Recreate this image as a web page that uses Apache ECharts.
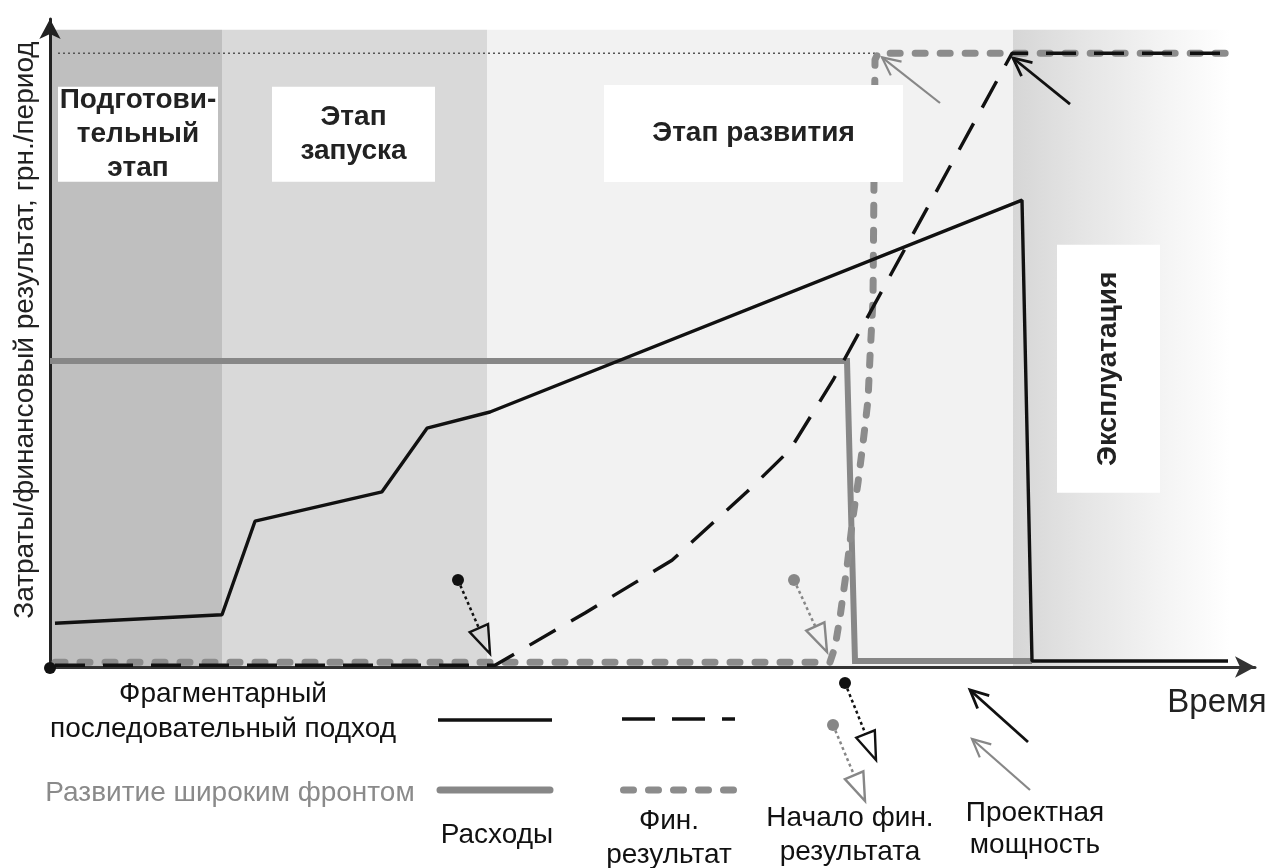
<!DOCTYPE html>
<html><head><meta charset="utf-8">
<script src="https://cdn.jsdelivr.net/npm/echarts@6/dist/echarts.min.js"></script>
<style>html,body{margin:0;padding:0;background:#fff}#c{width:1282px;height:868px}</style>
</head><body><div id="c"></div>
<script>
// ---------- DATA (x: time units, y: value units) ----------
const stageNames  = ['Подготови-\nтельный\nэтап', 'Этап\nзапуска', 'Этап развития', 'Эксплуатация'];
const stageStart  = [0, 17.2, 43.7, 96.3];
const stageEnd    = [17.2, 43.7, 96.3, 118];
const stageTop    = 106.2;
const stageLabelX = [8.8, 30.35, 70.35, 105.85];
const stageLabelY = [88.8, 88.8, 88.9, 49.7];

// Фрагментарный последовательный подход — расходы
const fragmentCosts = [[0.5,7.3],[17.2,8.7],[20.5,24.3],[33.2,29.2],[37.7,39.8],[44,42.5],[97.2,77.8],[98.2,1],[117.8,1]];
// Фрагментарный — фин. результат
const fragmentResult = [[0.5,0.3],[44.5,0.3],[53.5,9],[62.2,17.8],[69.7,29.2],[74,36.2],[78.3,47.8],[96.2,102.3],[117.8,102.3]];
// Развитие широким фронтом — расходы
const frontCosts = [[0,51],[79.7,51],[80.5,1],[98.2,1]];
// Развитие широким фронтом — фин. результат
const frontResult = [[0.5,0.8],[78,0.8],[78.5,3.3],[79,8.3],[79.7,16.7],[80.3,25],[80.8,30.7],[81.3,37.3],[81.8,44.5],[82,51.7],[82.3,61.2],[82.5,101.2],[82.8,102.3],[117.8,102.3]];
// Проектная мощность (reference level)
const designLevel = [[0.8,102.3],[82.6,102.3]];

// Annotations in data coordinates: [x1,y1,x2,y2]
const startPins   = [[40.8,14.5,44,2.2],[74.4,14.5,77.7,2.5]];
const capacityArrows = [[89,94,83.2,101.6],[102,93.8,96.3,101.5]];

const yTitle = 'Затраты/финансовый результат, грн./период';
const xTitle = 'Время';
const legendTexts = ['Фрагментарный\nпоследовательный подход','Развитие широким фронтом','Расходы','Фин.\nрезультат','Начало фин.\nрезультата','Проектная\nмощность'];

// ---------- STYLE ----------
const FONT = '"Liberation Sans", Arial, sans-serif';
const BLACK = '#111', GRAY = '#878787';
const pinColors = [BLACK, GRAY];
const arrowColors = [GRAY, BLACK];
const labelBox = [[160,95],[163,95],[299,97],[103,248]];

const chart = echarts.init(document.getElementById('c'));

const bandColors = ['#bfbfbf','#d9d9d9','#f2f2f2',
  new echarts.graphic.LinearGradient(0,0,1,0,[
    {offset:0,color:'#d6d6d6'},{offset:0.3,color:'#e4e4e4'},{offset:0.7,color:'#f4f4f4'},{offset:1,color:'#ffffff'}])];

function pinShape(a,b,color){
  const dx=b[0]-a[0], dy=b[1]-a[1], L=Math.hypot(dx,dy), ux=dx/L, uy=dy/L, nx=-uy, ny=ux;
  const hl=28, hw=10;
  const base=[b[0]-ux*hl, b[1]-uy*hl];
  return [
    {type:'line', shape:{x1:a[0],y1:a[1],x2:base[0],y2:base[1]}, style:{stroke:color,lineWidth:2.5,lineDash:[3,3]}},
    {type:'polygon', shape:{points:[b,[base[0]+nx*hw,base[1]+ny*hw],[base[0]-nx*hw,base[1]-ny*hw]]}, style:{fill:'none',stroke:color,lineWidth:2.4}},
    {type:'circle', shape:{cx:a[0],cy:a[1],r:6}, style:{fill:color}}
  ];
}
function arrowShape(a,b,color,w){
  const ang=Math.atan2(a[1]-b[1], a[0]-b[0]);
  const hl=20, sp=0.45;
  const p1=[b[0]+hl*Math.cos(ang+sp), b[1]+hl*Math.sin(ang+sp)];
  const p2=[b[0]+hl*Math.cos(ang-sp), b[1]+hl*Math.sin(ang-sp)];
  return [
    {type:'line', shape:{x1:a[0],y1:a[1],x2:b[0],y2:b[1]}, style:{stroke:color,lineWidth:w}},
    {type:'polyline', shape:{points:[p1,b,p2]}, style:{stroke:color,lineWidth:w,fill:'none'}}
  ];
}
function txt(text,x,y,opt){
  opt=opt||{};
  return {type:'text', x:x, y:y, rotation:opt.rotation||0, z:10,
    style:{text:text, fontSize:opt.size||28, fontFamily:FONT, fontWeight:opt.weight||'normal',
      fill:opt.color||'#1a1a1a', align:'center', verticalAlign:'middle', textAlign:'center', textVerticalAlign:'middle',
      lineHeight:opt.lh||35}};
}

const axisCommon = {axisTick:{show:false}, axisLabel:{show:false}, splitLine:{show:false}};

const option = {
  animation:false,
  backgroundColor:'#ffffff',
  grid:{left:50, right:27, top:19, bottom:201, containLabel:false},
  xAxis:Object.assign({type:'value', min:0, max:120.5,
    axisLine:{show:true, symbol:['none','arrow'], symbolSize:[16,20], lineStyle:{color:'#333', width:3}}}, axisCommon),
  yAxis:Object.assign({type:'value', min:0, max:108,
    axisLine:{show:true, symbol:['none','arrow'], symbolSize:[16,20], lineStyle:{color:'#222', width:3}}}, axisCommon),
  series:[
    { type:'custom', name:'stages', z:0, silent:true,
      data: stageStart.map((s,i)=>[s, stageEnd[i]]),
      encode:{x:[0,1]},
      renderItem:(params,api)=>{
        const p0=api.coord([api.value(0), stageTop]);
        const p1=api.coord([api.value(1), 0]);
        return {type:'rect', shape:{x:p0[0], y:p0[1], width:p1[0]-p0[0], height:p1[1]-p0[1]}, style:{fill:bandColors[params.dataIndex]}};
      }},
    { type:'line', name:'level', z:2, data:designLevel, showSymbol:false, silent:true,
      lineStyle:{color:'#555', width:1.5, type:[2,3]}},
    { type:'line', name:'frontCosts', z:3, data:frontCosts, showSymbol:false, silent:true,
      lineStyle:{color:GRAY, width:6, join:'miter'}},
    { type:'line', name:'frontResult', z:3, data:frontResult, showSymbol:false, silent:true,
      lineStyle:{color:'#8c8c8c', width:7, type:[10,15], cap:'round', join:'round'}},
    { type:'line', name:'fragmentResult', z:4, data:fragmentResult, showSymbol:false, silent:true,
      lineStyle:{color:BLACK, width:3.4, type:[30,18]}},
    { type:'line', name:'fragmentCosts', z:4, data:fragmentCosts, showSymbol:false, silent:true,
      lineStyle:{color:BLACK, width:3.4}},
    { type:'custom', name:'labels', z:6, silent:true,
      data: stageLabelX.map((x,i)=>[x, stageLabelY[i]]),
      renderItem:(params,api)=>{
        const i=params.dataIndex;
        const c=api.coord([api.value(0), api.value(1)]);
        const w=labelBox[i][0], h=labelBox[i][1];
        return {type:'group', children:[
          {type:'rect', shape:{x:c[0]-w/2, y:c[1]-h/2, width:w, height:h}, style:{fill:'#ffffff'}},
          {type:'text', x:c[0], y:c[1], rotation: i===3?Math.PI/2:0,
            style:{text:stageNames[i], fontSize:28, fontWeight:'bold', fontFamily:FONT, fill:'#222',
              align:'center', verticalAlign:'middle', textAlign:'center', textVerticalAlign:'middle', lineHeight:34}}
        ]};
      }},
    { type:'custom', name:'pins', z:7, silent:true, data:startPins,
      renderItem:(params,api)=>{
        const a=api.coord([api.value(0),api.value(1)]), b=api.coord([api.value(2),api.value(3)]);
        return {type:'group', children:pinShape(a,b,pinColors[params.dataIndex])};
      }},
    { type:'custom', name:'arrows', z:7, silent:true, data:capacityArrows,
      renderItem:(params,api)=>{
        const a=api.coord([api.value(0),api.value(1)]), b=api.coord([api.value(2),api.value(3)]);
        return {type:'group', children:arrowShape(a,b,arrowColors[params.dataIndex], params.dataIndex?2.8:2.2)};
      }},
    { type:'custom', name:'origin', z:8, silent:true, data:[[0,0]],
      renderItem:(params,api)=>{
        const c=api.coord([0,0]);
        return {type:'circle', shape:{cx:c[0], cy:c[1]+1, r:6}, style:{fill:'#111'}};
      }}
  ],
  graphic:{elements:[
    txt(yTitle, 25, 330, {rotation:Math.PI/2, color:'#222'}),
    txt(xTitle, 1217, 703, {size:33, color:'#222'}),
    txt(legendTexts[0], 223, 712, {color:'#111'}),
    txt(legendTexts[1], 230, 793, {color:'#8a8a8a'}),
    txt(legendTexts[2], 497, 835, {color:'#111'}),
    txt(legendTexts[3], 669, 838, {color:'#111', lh:34}),
    txt(legendTexts[4], 850, 835, {color:'#111', lh:34}),
    txt(legendTexts[5], 1035, 829, {color:'#111', lh:32}),
    {type:'line', shape:{x1:438,y1:720,x2:552,y2:720}, style:{stroke:BLACK, lineWidth:3.5}},
    {type:'line', shape:{x1:622,y1:719,x2:735,y2:719}, style:{stroke:BLACK, lineWidth:3.5, lineDash:[33,17]}},
    {type:'line', shape:{x1:440,y1:790,x2:550,y2:790}, style:{stroke:GRAY, lineWidth:7, lineCap:'round'}},
    {type:'line', shape:{x1:623.5,y1:790,x2:733.5,y2:790}, style:{stroke:'#8c8c8c', lineWidth:7, lineDash:[10,15], lineCap:'round'}},
    {type:'group', children:pinShape([845,683],[876,760],BLACK)},
    {type:'group', children:pinShape([833,725],[865,801],GRAY)},
    {type:'group', children:arrowShape([1028,742],[970,690],BLACK,2.8)},
    {type:'group', children:arrowShape([1030,790],[972,739],GRAY,2.2)}
  ]}
};
chart.setOption(option);
</script></body></html>
